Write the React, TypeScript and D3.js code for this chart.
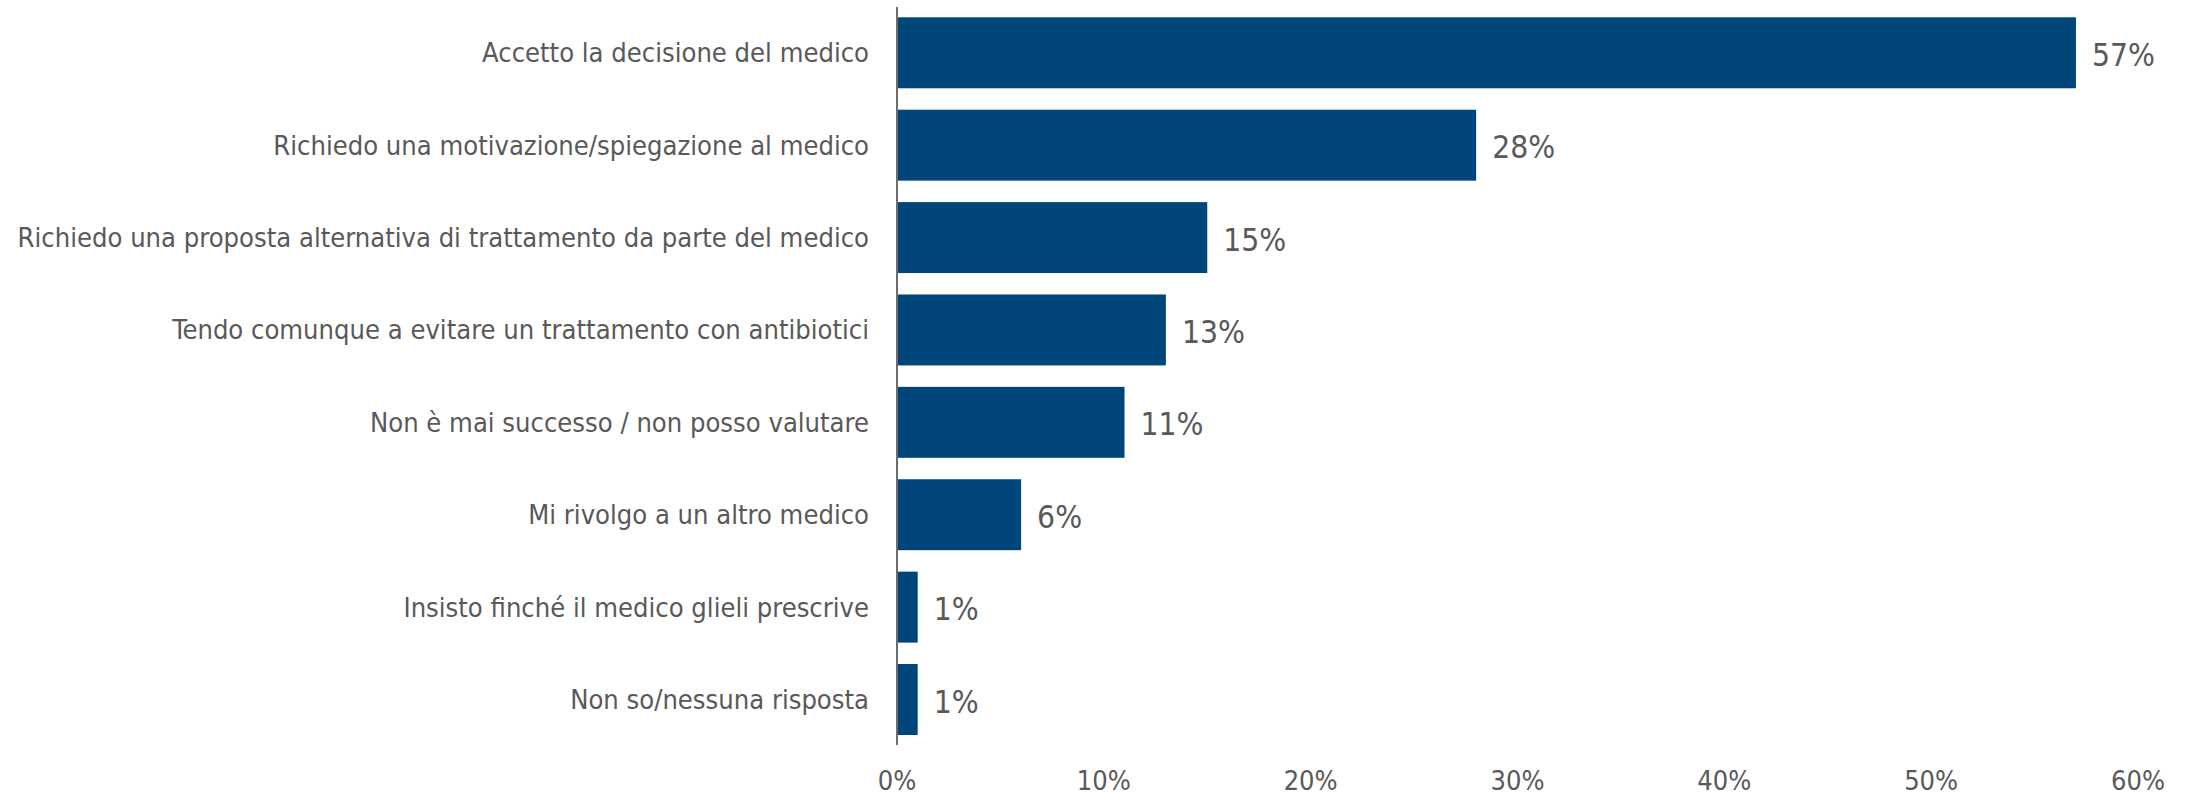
import React from "react";
import * as d3 from "d3";

const categories = [
  "Accetto la decisione del medico",
  "Richiedo una motivazione/spiegazione al medico",
  "Richiedo una proposta alternativa di trattamento da parte del medico",
  "Tendo comunque a evitare un trattamento con antibiotici",
  "Non è mai successo / non posso valutare",
  "Mi rivolgo a un altro medico",
  "Insisto finché il medico glieli prescrive",
  "Non so/nessuna risposta",
];
const values = [57, 28, 15, 13, 11, 6, 1, 1];
const ticks = [0, 10, 20, 30, 40, 50, 60];

const W = 2197;
const H = 794;
const FONT = "'DejaVu Sans Condensed', 'DejaVu Sans', sans-serif";

function fitSize(text: string, target: number, base: number) {
  try {
    const ctx = document.createElement("canvas").getContext("2d");
    if (!ctx) return base;
    ctx.font = `${base}px 'DejaVu Sans Condensed', 'DejaVu Sans', sans-serif`;
    const w = ctx.measureText(text).width;
    return w > 0 ? (base * target) / w : base;
  } catch {
    return base;
  }
}

export default function App() {
  const x = d3.scaleLinear().domain([0, 60]).range([897, 2138]);
  const y = d3.scaleBand<string>().domain(categories).range([6.6, 745.7]).paddingInner(0.232).paddingOuter(0.116);
  const catSize = fitSize(categories[2], 852, 28);
  return (
    <svg width={W} height={H} style={{ position: "absolute", left: 0, top: 0 }}>
      <rect width={W} height={H} fill="#fff" />
      {categories.map((c, i) => (
        <g key={c}>
          <rect x={x(0)} y={y(c)} width={x(values[i]) - x(0)} height={y.bandwidth()} fill="#00467a" />
          <text x={869} y={(y(c) as number) + y.bandwidth() / 2} textAnchor="end" dominantBaseline="central" fontFamily={FONT} fontSize={catSize} fill="#595959">{c}</text>
          <text x={x(values[i]) + 16} y={(y(c) as number) + y.bandwidth() / 2 + 2} dominantBaseline="central" fontFamily={FONT} fontSize={31.5} fill="#595959">{values[i]}%</text>
        </g>
      ))}
      <line x1={x(0)} x2={x(0)} y1={7} y2={745} stroke="#6d6d6d" strokeWidth={2} />
      {ticks.map((t) => (
        <text key={t} x={x(t)} y={780} textAnchor="middle" dominantBaseline="central" fontFamily={FONT} fontSize={27} fill="#595959">{t}%</text>
      ))}
    </svg>
  );
}
